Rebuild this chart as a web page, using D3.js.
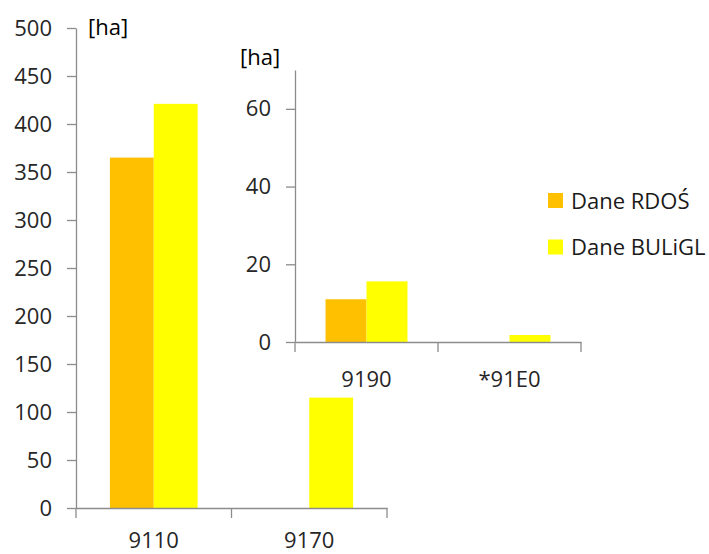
<!DOCTYPE html>
<html>
<head>
<meta charset="utf-8">
<script src="https://cdn.jsdelivr.net/npm/d3@7"></script>
<style>
  body { margin: 0; background: #fff; }
  svg text { font-family: "Open Sans", sans-serif; fill: #262626; }
  .axis path, .axis line { stroke: #8c8c8c; stroke-width: 1.3; }
</style>
</head>
<body>
<div id="chart"></div>
<script>
// main chart data
var mainCats = ["9110", "9170"];
var mainRdos = [365, 0];
var mainBuligl = [421, 115];
var mainTicks = [0, 50, 100, 150, 200, 250, 300, 350, 400, 450, 500];

// inset chart data
var insetCats = ["9190", "*91E0"];
var insetRdos = [11, 0];
var insetBuligl = [15.6, 1.8];
var insetTicks = [0, 20, 40, 60];

var seriesNames = ["Dane RDOŚ", "Dane BULiGL"];
var colors = ["#FFC000", "#FFFF00"];

var width = 709, height = 554;
var fontSize = 22;

var svg = d3.select("#chart").append("svg")
  .attr("width", width)
  .attr("height", height);

svg.append("rect").attr("width", width).attr("height", height).attr("fill", "#fff");

// draws one bar chart panel
function drawPanel(cats, rdos, buligl, ticks, yMax, box, outerPad, labelPad) {
  var x = d3.scaleBand().domain(cats).range([box.left, box.right]);
  var y = d3.scaleLinear().domain([0, yMax]).range([box.bottom, box.top]);
  var xs = d3.scaleBand().domain(seriesNames).range([0, x.bandwidth()])
    .paddingInner(0).paddingOuter(outerPad);
  var color = d3.scaleOrdinal().domain(seriesNames).range(colors);

  var g = svg.append("g");

  var rows = [];
  cats.forEach(function (c, i) {
    rows.push({ cat: c, s: seriesNames[0], v: rdos[i] });
    rows.push({ cat: c, s: seriesNames[1], v: buligl[i] });
  });

  g.selectAll(".bar").data(rows).enter().append("rect")
    .attr("class", "bar")
    .attr("x", function (d) { return x(d.cat) + xs(d.s); })
    .attr("width", xs.bandwidth())
    .attr("y", function (d) { return y(d.v); })
    .attr("height", function (d) { return y(0) - y(d.v); })
    .attr("fill", function (d) { return color(d.s); });

  // y axis
  var yAxis = g.append("g").attr("class", "axis")
    .attr("transform", "translate(" + box.left + ",0)")
    .call(d3.axisLeft(y).tickValues(ticks).tickSize(9).tickSizeOuter(0).tickPadding(15));
  yAxis.selectAll("text").style("font-size", fontSize + "px");

  // x axis labels
  var xAxis = g.append("g").attr("class", "axis")
    .attr("transform", "translate(0," + box.bottom + ")")
    .call(d3.axisBottom(x).tickSize(0).tickSizeOuter(0).tickPadding(labelPad));
  xAxis.selectAll("text").style("font-size", fontSize + "px");

  // category boundary ticks
  var edges = cats.map(function (c) { return x(c); }).concat([x.range()[1]]);
  xAxis.selectAll(".edge").data(edges).enter().append("line")
    .attr("class", "edge")
    .attr("x1", function (d) { return d; })
    .attr("x2", function (d) { return d; })
    .attr("y1", 0)
    .attr("y2", 10);

  // unit label
  g.append("text")
    .attr("x", box.left + box.unitDx)
    .attr("y", box.unitY)
    .style("font-size", fontSize + "px")
    .style("fill", "#000")
    .text("[ha]");
}

drawPanel(mainCats, mainRdos, mainBuligl, mainTicks, 500,
  { left: 76, right: 387, top: 28, bottom: 508, unitDx: 12, unitY: 35 }, 0.773, 24);

drawPanel(insetCats, insetRdos, insetBuligl, insetTicks, 70,
  { left: 295, right: 581, top: 70, bottom: 342, unitDx: -55, unitY: 65 }, 0.745, 29);

// legend
var legend = svg.append("g").attr("transform", "translate(548,193)");
seriesNames.forEach(function (s, i) {
  var row = legend.append("g").attr("transform", "translate(0," + i * 46.5 + ")");
  row.append("rect").attr("width", 15).attr("height", 15).attr("fill", colors[i]);
  row.append("text")
    .attr("x", 23)
    .attr("y", 15.5)
    .style("font-size", fontSize + "px")
    .style("fill", "#1a1a1a")
    .text(s);
});
</script>
</body>
</html>
